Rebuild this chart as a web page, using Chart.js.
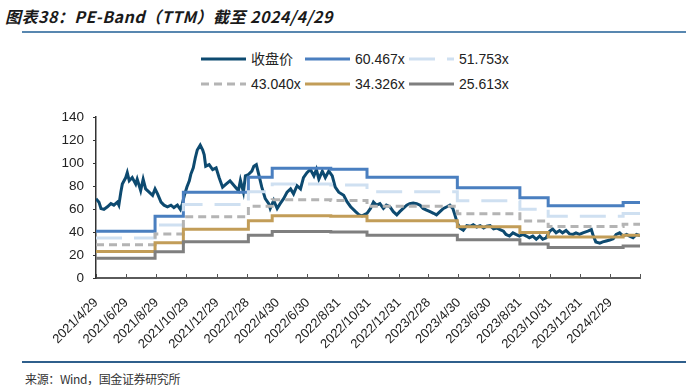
<!DOCTYPE html>
<html>
<head>
<meta charset="utf-8">
<script src="https://cdn.jsdelivr.net/npm/chart.js@4.4.1/dist/chart.umd.min.js"></script>
<style>
  html,body{margin:0;padding:0;background:#fff;}
  #wrap{position:relative;width:686px;height:385px;overflow:hidden;font-family:"Liberation Sans",Arial,"Noto Sans CJK SC",sans-serif;color:#222;}
  .title{position:absolute;left:5px;top:4px;font:italic bold 16px "Noto Sans CJK SC",sans-serif;color:#1a1a1a;white-space:nowrap;}
  .rule{position:absolute;left:22px;right:0;height:2px;}
  .rule.top{top:31px;background:#5887b0;}
  .rule.bottom{top:361px;background:#2f5f8c;}
  .source{position:absolute;left:25px;top:370px;font:12px "Noto Sans CJK SC",sans-serif;color:#333;white-space:nowrap;}
  #legend .item{position:absolute;height:16px;display:flex;align-items:center;font-size:14px;line-height:16px;white-space:nowrap;}
  #legend svg{margin-right:5px;display:block;}
  #box{position:absolute;left:0;top:100px;width:686px;height:250px;}
</style>
</head>
<body>
<div id="wrap">
  <div class="title" id="title">图表38：PE-Band（TTM）截至 2024/4/29</div>
  <div class="rule top"></div>
  <div id="legend"></div>
  <div id="box"><canvas id="peBand"></canvas></div>
  <div class="rule bottom"></div>
  <div class="source" id="source">来源：Wind，国金证券研究所</div>
</div>
<script>
// x axis = days since 2021/4/29
const startDate = '2021/4/29';
const endDate = '2024/4/29';
const tickDates = ['2021/4/29','2021/6/29','2021/8/29','2021/10/29','2021/12/29','2022/2/28','2022/4/30','2022/6/30','2022/8/31','2022/10/31','2022/12/31','2023/2/28','2023/4/30','2023/6/30','2023/8/31','2023/10/31','2023/12/31','2024/2/29','2024/4/29'];
const tickLabels = ['2021/4/29','2021/6/29','2021/8/29','2021/10/29','2021/12/29','2022/2/28','2022/4/30','2022/6/30','2022/8/31','2022/10/31','2022/12/31','2023/2/28','2023/4/30','2023/6/30','2023/8/31','2023/10/31','2023/12/31','2024/2/29',''];
const yTicks = [0, 20, 40, 60, 80, 100, 120, 140];

const seriesNames = ['收盘价', '60.467x', '51.753x', '43.040x', '34.326x', '25.613x'];

// closing price
const priceDays = [0,6,10,16,23,30,36,43,46,50,53,60,63,67,73,80,83,90,95,100,107,114,119,124,131,137,144,151,157,164,170,174,178,183,188,191,196,200,204,210,215,218,221,228,235,242,248,255,262,270,281,287,291,297,301,307,314,318,323,328,334,341,348,351,358,365,371,378,385,392,398,405,412,418,425,432,439,444,449,456,462,469,476,482,489,499,506,513,523,530,536,546,553,559,565,572,579,585,592,599,606,612,619,626,632,639,646,653,659,666,673,680,686,693,700,707,713,719,723,728,733,740,747,754,760,767,774,781,787,794,801,807,814,821,826,833,840,846,853,860,867,873,880,887,894,900,907,914,920,927,934,940,947,954,961,967,974,981,991,998,1001,1007,1015,1021,1028,1035,1042,1048,1055,1062,1069,1075,1082,1089,1096];
const priceValues = [69,66,60.5,59.7,62,64.7,63.4,66,63.4,74.7,81.7,87.4,91.6,84.6,87.4,81.7,86,76.1,86,77.5,74.7,71.9,77.5,73.2,66,63.4,62,63.4,61.3,63.4,59.7,64.7,71.9,79,84.6,90.2,95.9,104.4,111.4,115.6,111.4,107.2,97.3,98.7,94.4,95.9,87.4,79,81.7,84.6,79,76,85,74.7,89,90,93,97.3,98.7,90,79,69,64.7,60.5,67.6,60.5,64.7,69,74.7,77.5,73.2,80.3,77.5,87.4,91.6,94.4,88.8,94.4,86,93,87.4,93,88.8,79,74.7,71.9,66.2,62,57.7,55,54,56.3,60.5,66,63.4,64.7,60.5,63.4,62,57.7,54.9,57.7,60.5,63.4,64.7,65.3,64.7,63.4,60.5,59.1,57.7,56.3,54.9,57.7,60.5,62,63.4,60.5,54.9,47.8,43.5,41.6,45.6,45,46.4,44.4,45.6,43.5,45,45.6,42.7,43.5,42.1,40.7,37.9,36.5,39.3,37.9,36.5,37.9,36.5,35,36.5,33.7,36.5,33.7,35,40.7,42.7,39.3,41.3,39.3,41.3,38.4,37.9,39.3,37.9,39.3,40.7,42.1,37.9,31.4,30.3,31.4,32.2,33,34.2,37.9,39.3,36.5,37.9,36.5,35,37.9,37];

// PE bands: one value per reporting period, held until the next date
const bandDates = ['2021/4/29','2021/8/26','2021/10/22','2022/3/2','2022/4/19','2022/8/15','2022/10/27','2023/4/27','2023/8/31','2023/10/27','2024/3/26'];
const band60 = [40.7,53.8,74.7,87.7,95.5,94.6,87.7,78.6,69.8,62.9,65.6];
const band52 = [34.8,46.1,63.9,75.0,81.8,81.0,75.0,67.3,59.8,53.8,56.2];
const band43 = [29.0,38.3,53.2,62.4,68.0,67.4,62.4,56.0,49.7,44.8,46.7];
const band34 = [23.1,30.6,42.4,49.8,54.2,53.7,49.8,44.6,39.6,35.7,37.2];
const band26 = [17.2,22.8,31.6,37.1,40.5,40.1,37.1,33.3,29.6,26.6,27.8];

(function(){
  const dayOf = (s)=>{
    const [y, m, d] = s.split('/').map(Number);
    const [y0, m0, d0] = startDate.split('/').map(Number);
    return Math.round((Date.UTC(y, m - 1, d) - Date.UTC(y0, m0 - 1, d0)) / 86400000);
  };
  const endDay = dayOf(endDate);
  const tickDays = tickDates.map(dayOf);
  const stepPoints = (vals)=>{
    const pts = bandDates.map((d, i)=>({ x: dayOf(d), y: vals[i] }));
    pts.push({ x: endDay, y: vals[vals.length - 1] });
    return pts;
  };
  const pricePoints = priceDays.map((d, i)=>({ x: d, y: priceValues[i] }));

  // stretch a text line to the width it has in the source image
  const fitWidth = (id, target)=>{
    const el = document.getElementById(id);
    if (!el) return;
    const n = el.textContent.length;
    const w = el.getBoundingClientRect().width;
    el.style.letterSpacing = ((target - w) / n).toFixed(2) + 'px';
  };
  fitWidth('title', 328);
  fitWidth('source', 155);

  const font = { family: '"Liberation Sans", Arial, sans-serif', size: 13 };
  const datasets = [
    { label: seriesNames[0], data: pricePoints, borderColor: '#0d4a70', borderWidth: 3, order: 6 },
    { label: seriesNames[1], data: stepPoints(band60), borderColor: '#4a7fc0', borderWidth: 3, stepped: 'before', order: 5 },
    { label: seriesNames[2], data: stepPoints(band52), borderColor: '#cfe0f1', borderWidth: 3, stepped: 'before', borderDash: [26, 12], order: 4 },
    { label: seriesNames[3], data: stepPoints(band43), borderColor: '#b4b4b4', borderWidth: 3, stepped: 'before', borderDash: [8, 5], order: 3 },
    { label: seriesNames[4], data: stepPoints(band34), borderColor: '#c29d58', borderWidth: 3, stepped: 'before', order: 2 },
    { label: seriesNames[5], data: stepPoints(band26), borderColor: '#7f7f7f', borderWidth: 3, stepped: 'before', order: 1 }
  ];
  datasets.forEach(ds => { ds.pointRadius = 0; ds.fill = false; ds.tension = 0; });

  const chart = new Chart(document.getElementById('peBand'), {
    type: 'line',
    data: { datasets },
    options: {
      responsive: true,
      maintainAspectRatio: false,
      animation: false,
      layout: { padding: { top: 13, right: 46, left: 0, bottom: 0 } },
      plugins: { legend: { display: false }, tooltip: { enabled: false } },
      scales: {
        x: {
          type: 'linear',
          min: 0,
          max: endDay,
          afterBuildTicks: (s)=>{ s.ticks = tickDays.map(v => ({ value: v })); },
          afterFit: (s)=>{ s.height = 72; },
          grid: { drawOnChartArea: false, drawTicks: true, tickLength: -4, tickColor: '#555', tickWidth: 1 },
          border: { color: '#5a5a5a', width: 2 },
          ticks: {
            autoSkip: false, maxRotation: 45, minRotation: 45, padding: 21,
            color: '#222', font,
            callback: (v, i)=> tickLabels[i] || ''
          }
        },
        y: {
          min: 0,
          max: 140,
          afterBuildTicks: (s)=>{ s.ticks = yTicks.map(v => ({ value: v })); },
          afterFit: (s)=>{ s.width = 96; },
          grid: { drawOnChartArea: false, drawTicks: true, tickLength: 3, tickColor: '#333' },
          border: { color: '#333', width: 1.5 },
          ticks: { padding: 9, color: '#222', font: { family: font.family, size: 13.5 } }
        }
      }
    }
  });

  // legend: 3 x 2 grid like the source
  const cols = [201, 305, 409];
  const rows = [59, 84];
  const legend = document.getElementById('legend');
  legend.innerHTML = chart.data.datasets.map((ds, i)=>{
    const x = cols[i % 3], y = rows[Math.floor(i / 3)];
    const dash = ds.borderDash ? ` stroke-dasharray="${ds.borderDash.join(' ')}"` : '';
    return `<div class="item" style="left:${x}px;top:${y - 8}px">` +
      `<svg width="45" height="6"><line x1="0" y1="3" x2="45" y2="3" stroke="${ds.borderColor}" stroke-width="3"${dash}/></svg>` +
      `<span>${ds.label}</span></div>`;
  }).join('');
})();
</script>
</body>
</html>
